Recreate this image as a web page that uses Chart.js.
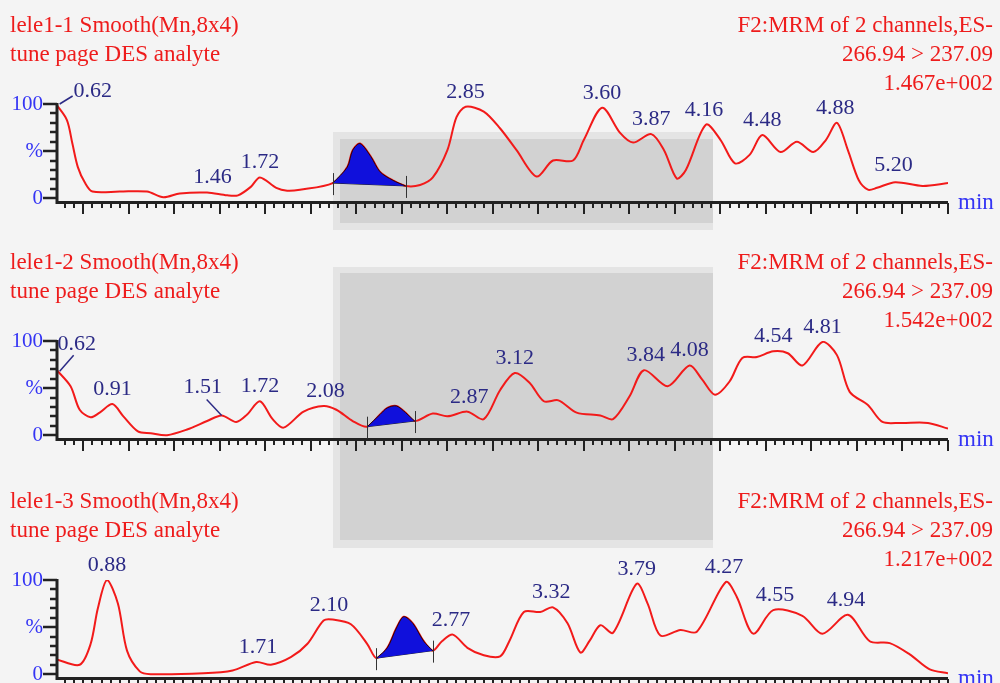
<!DOCTYPE html>
<html>
<head>
<meta charset="utf-8">
<script src="https://cdn.jsdelivr.net/npm/chart.js@4.4.0/dist/chart.umd.min.js"></script>
<style>
  html, body { margin: 0; padding: 0; }
  body { width: 1000px; height: 683px; overflow: hidden; background: #f4f4f4; position: relative; }
  .wm { position: absolute; }
  .panel { position: absolute; left: 0; width: 1000px; height: 237px; }
</style>
</head>
<body>
<!-- grey blocks from the scanned background -->
<div class="wm" style="left:333px;top:132px;width:380px;height:98px;background:#e4e4e4"></div>
<div class="wm" style="left:340px;top:139px;width:373px;height:84px;background:#d2d2d2"></div>
<div class="wm" style="left:333px;top:267px;width:380px;height:281px;background:#e4e4e4"></div>
<div class="wm" style="left:340px;top:273px;width:373px;height:267px;background:#d2d2d2"></div>

<div class="panel" style="top:0px"><canvas id="c1" width="1000" height="237"></canvas></div>
<div class="panel" style="top:237px"><canvas id="c2" width="1000" height="237"></canvas></div>
<div class="panel" style="top:476px"><canvas id="c3" width="1000" height="237"></canvas></div>

<script>
// retention time range (min)
const xMin = 0.6;
const xMax = 5.5;

// y axis tick labels
const yTickValues = [100, 50, 0];
const yTickLabels = ['100', '%', '0'];

// ---- lele1-1 ----
const title1 = ['lele1-1 Smooth(Mn,8x4)', 'tune page DES analyte'];
const info1 = ['F2:MRM of 2 channels,ES-', '266.94 > 237.09', '1.467e+002'];
const time1 = [0.60,0.66,0.69,0.72,0.76,0.80,0.95,1.10,1.19,1.28,1.43,1.54,1.60,1.67,1.72,1.81,1.87,1.94,2.12,2.20,
  2.23,2.27,2.33,2.38,2.45,2.52,2.60,2.67,2.75,2.80,2.85,2.95,3.04,3.13,3.24,3.33,3.44,3.50,3.60,3.70,
  3.77,3.87,3.94,4.01,4.06,4.17,4.25,4.33,4.41,4.48,4.58,4.67,4.76,4.83,4.89,4.95,5.01,5.06,5.11,5.21,5.36,5.50];
const resp1 = [100,83,58,33,16,7,7,7,1,5,6,3,3,12,22,11,8,9,16,33,
  51,58,44,28,19,13,14,22,51,86,97,92,74,51,23,40,40,62,96,69,
  59,68,51,21,30,78,62,37,46,67,49,60,49,62,80,51,19,9,11,17,13,16];
const peakTime1 = [2.12,2.20,2.23,2.27,2.33,2.38,2.45,2.52];
const peakResp1 = [16,33,51,58,44,28,19,13];
const labelTime1 = [0.62,1.46,1.72,2.85,3.60,3.87,4.16,4.48,4.88,5.20];
const labelResp1 = [100,7,22,97,96,68,78,67,80,19];

// ---- lele1-2 ----
const title2 = ['lele1-2 Smooth(Mn,8x4)', 'tune page DES analyte'];
const info2 = ['F2:MRM of 2 channels,ES-', '266.94 > 237.09', '1.542e+002'];
const time2 = [0.60,0.68,0.73,0.79,0.84,0.91,0.97,1.05,1.12,1.21,1.32,1.43,1.51,1.59,1.65,1.72,1.79,1.85,1.96,2.07,
  2.14,2.23,2.31,2.38,2.42,2.47,2.52,2.57,2.67,2.75,2.86,2.95,3.04,3.12,3.20,3.28,3.36,3.46,3.59,3.66,
  3.75,3.83,3.96,4.08,4.15,4.22,4.30,4.37,4.45,4.54,4.62,4.70,4.81,4.89,4.96,5.06,5.14,5.24,5.39,5.50];
const resp2 = [70,52,27,19,24,33,20,4,2,0,6,15,21,14,22,36,17,8,25,31,
  27,15,9,22,29,31,24,15,23,20,25,17,48,66,56,36,37,24,21,17,
  41,69,52,74,59,43,57,82,83,89,87,74,99,85,46,32,14,13,13,7];
const peakTime2 = [2.31,2.38,2.42,2.47,2.52,2.57];
const peakResp2 = [9,22,29,31,24,15];
const labelTime2 = [0.62,0.91,1.51,1.72,2.08,2.87,3.12,3.84,4.08,4.54,4.81];
const labelResp2 = [68,33,21,36,31,25,66,69,74,89,99];

// ---- lele1-3 ----
const title3 = ['lele1-3 Smooth(Mn,8x4)', 'tune page DES analyte'];
const info3 = ['F2:MRM of 2 channels,ES-', '266.94 > 237.09', '1.217e+002'];
const time3 = [0.60,0.73,0.79,0.83,0.88,0.94,0.99,1.06,1.12,1.41,1.57,1.70,1.78,1.89,1.98,2.07,2.12,2.22,2.31,2.36,
  2.42,2.47,2.51,2.56,2.62,2.67,2.72,2.78,2.86,2.95,3.04,3.09,3.17,3.26,3.33,3.41,3.48,3.53,3.59,3.66,
  3.79,3.85,3.92,4.03,4.12,4.28,4.34,4.43,4.54,4.70,4.81,4.95,5.07,5.18,5.29,5.40,5.50];
const resp3 = [16,10,32,70,100,75,25,3,0,1,4,13,10,18,32,57,58,53,32,17,
  28,49,61,54,35,25,35,42,28,20,19,35,66,66,71,54,23,35,52,44,
  96,75,41,47,45,98,82,43,68,62,43,63,35,33,21,5,1];
const peakTime3 = [2.36,2.42,2.47,2.51,2.56,2.62,2.67];
const peakResp3 = [17,28,49,61,54,35,25];
const labelTime3 = [0.88,1.71,2.10,2.77,3.32,3.79,4.27,4.55,4.94];
const labelResp3 = [100,13,58,42,71,96,98,68,63];

const serif = '"Liberation Serif", "Times New Roman", serif';

// draws the MassLynx style frame, headers, tick marks and peak labels
function chromPlugin(cfg) {
  return {
    id: 'chrom',
    afterDatasetsDraw(chart) {
      const ctx = chart.ctx;
      const xs = chart.scales.x, ys = chart.scales.y;
      const a = chart.chartArea;
      ctx.save();

      // headers
      ctx.font = '23px ' + serif;
      ctx.fillStyle = '#ee1c1c';
      ctx.textBaseline = 'alphabetic';
      ctx.textAlign = 'left';
      cfg.title.forEach((s, i) => ctx.fillText(s, 10, 32 + i * 29));
      ctx.textAlign = 'right';
      cfg.info.forEach((s, i) => ctx.fillText(s, 993, 32 + i * 29));

      // axis lines
      ctx.strokeStyle = '#222';
      ctx.lineWidth = 3;
      ctx.beginPath();
      ctx.moveTo(a.left + 1, a.top - 1);
      ctx.lineTo(a.left + 1, a.bottom + 3);
      ctx.moveTo(a.left, a.bottom + 1.5);
      ctx.lineTo(a.right, a.bottom + 1.5);
      ctx.stroke();

      // x ticks every 0.05 min, long ones every 0.25
      ctx.lineWidth = 2;
      ctx.beginPath();
      for (let k = 13; k <= 110; k++) {
        const px = Math.round(xs.getPixelForValue(k * 0.05));
        const len = k % 5 === 0 ? 11 : 5;
        ctx.moveTo(px, a.bottom + 2);
        ctx.lineTo(px, a.bottom + 2 + len);
      }
      ctx.stroke();

      // y ticks every 10 %
      ctx.lineWidth = 2.5;
      ctx.beginPath();
      for (let v = 0; v <= 100; v += 10) {
        const py = Math.round(ys.getPixelForValue(v));
        ctx.moveTo(v % 50 === 0 ? a.left - 13 : a.left - 6, py);
        ctx.lineTo(a.left + 1, py);
      }
      ctx.stroke();

      ctx.font = '21px ' + serif;
      ctx.fillStyle = '#3434f4';
      ctx.textAlign = 'right';
      ctx.textBaseline = 'middle';
      yTickValues.forEach((v, i) => ctx.fillText(yTickLabels[i], a.left - 13, ys.getPixelForValue(v)));

      ctx.textAlign = 'left';
      ctx.textBaseline = 'alphabetic';
      ctx.font = '23px ' + serif;
      ctx.fillText('min', a.right + 10, a.bottom + 8);

      // integration markers at the peak limits
      const pts = chart.getDatasetMeta(0).data;
      ctx.strokeStyle = '#333';
      ctx.lineWidth = 1;
      [pts[0], pts[pts.length - 1]].forEach(p => {
        const px = Math.round(p.x) + 0.5;
        ctx.beginPath();
        ctx.moveTo(px, p.y - 10);
        ctx.lineTo(px, p.y + 12);
        ctx.stroke();
      });

      // retention time labels
      ctx.font = '22px ' + serif;
      ctx.fillStyle = '#2b2a85';
      ctx.strokeStyle = '#2b2a85';
      ctx.lineWidth = 1.5;
      ctx.textAlign = 'center';
      cfg.labelTime.forEach((t, i) => {
        const px = xs.getPixelForValue(t);
        const py = ys.getPixelForValue(cfg.labelResp[i]);
        const ld = cfg.leaders[i];
        if (ld) {
          ctx.beginPath();
          ctx.moveTo(px, py);
          ctx.lineTo(px + ld.lx, py + ld.ly);
          ctx.stroke();
          ctx.fillText(t.toFixed(2), px + ld.dx, py + ld.dy);
        } else {
          ctx.fillText(t.toFixed(2), px, py - 9);
        }
      });
      ctx.restore();
    }
  };
}

function pairs(xs, ys) {
  return xs.map((x, i) => ({ x: x, y: ys[i] }));
}

function makeChart(id, cfg) {
  const trace = pairs(cfg.time, cfg.resp);
  const peak = pairs(cfg.peakTime, cfg.peakResp);
  new Chart(document.getElementById(id), {
    type: 'line',
    data: {
      datasets: [
        {
          data: peak,
          fill: 'shape',
          backgroundColor: '#1010dc',
          borderColor: '#300000',
          borderWidth: 1,
          tension: 0.3,
          pointRadius: 0
        },
        {
          data: [peak[0], peak[peak.length - 1]],
          borderColor: '#222',
          borderWidth: 1,
          pointRadius: 0,
          fill: false
        },
        {
          data: trace,
          borderColor: '#f21a1a',
          borderWidth: 2,
          tension: 0.3,
          pointRadius: 0,
          fill: false
        }
      ]
    },
    options: {
      responsive: false,
      animation: false,
      devicePixelRatio: 1,
      layout: { padding: { left: 56, right: 52, top: 104, bottom: 36 } },
      plugins: { legend: { display: false }, tooltip: { enabled: false } },
      scales: {
        x: { type: 'linear', min: xMin, max: xMax, display: false },
        y: { min: -3, max: 100, display: false }
      }
    },
    plugins: [chromPlugin(cfg)]
  });
}

makeChart('c1', { title: title1, info: info1, time: time1, resp: resp1, peakTime: peakTime1, peakResp: peakResp1,
  labelTime: labelTime1, labelResp: labelResp1, leaders: { 0: { dx: 33, dy: -7, lx: 13, ly: -8 } } });
makeChart('c2', { title: title2, info: info2, time: time2, resp: resp2, peakTime: peakTime2, peakResp: peakResp2,
  labelTime: labelTime2, labelResp: labelResp2,
  leaders: { 0: { dx: 17, dy: -21, lx: 14, ly: -16 }, 2: { dx: -19, dy: -22, lx: -15, ly: -16 } } });
makeChart('c3', { title: title3, info: info3, time: time3, resp: resp3, peakTime: peakTime3, peakResp: peakResp3,
  labelTime: labelTime3, labelResp: labelResp3, leaders: {} });
</script>
</body>
</html>
